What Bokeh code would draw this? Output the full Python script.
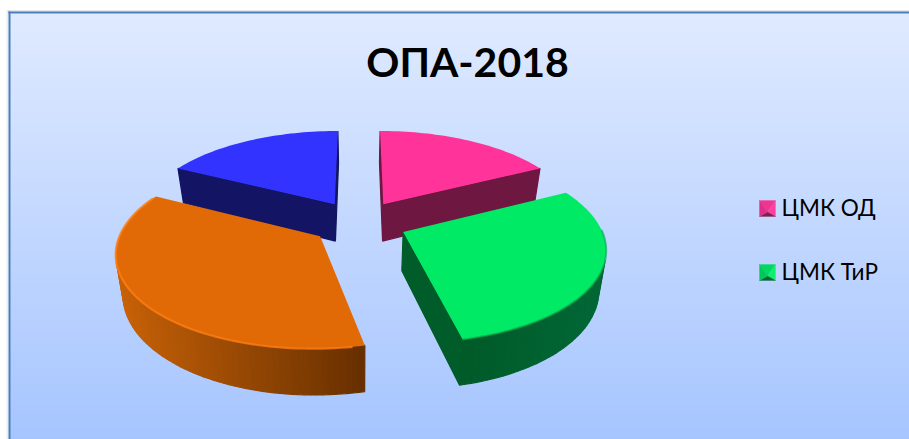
import math
from bokeh.plotting import figure
from bokeh.embed import file_html
from bokeh.resources import INLINE
from bokeh.core.properties import value

title = "ОПА-2018"
categories = ["ЦМК ОД", "ЦМК ТиР", "Кв. 3", "Кв. 4"]
shares = [17.5, 29.0, 36.0, 17.5]
legend_labels = ["ЦМК ОД", "ЦМК ТиР"]
top_colors = ["#ff3399", "#00ea66", "#e16a06", "#3333ff"]
cut_colors = ["#6e1740", "#005c28", "#8a4204", "#131464"]
wall_from = [(110, 23, 64), (0, 104, 54), (200, 98, 8), (19, 20, 100)]
wall_to = [(110, 23, 64), (0, 90, 40), (104, 48, 0), (19, 20, 100)]

W, H = 909, 439
p = figure(width=W, height=H, x_range=(0, W), y_range=(H, 0),
           toolbar_location=None, output_backend="svg", min_border=0,
           outline_line_color=None, background_fill_color="#ffffff",
           border_fill_color="#ffffff")
p.axis.visible = False
p.grid.visible = False

# background gradient, painted from the top down so that no seams show
top_rgb, bottom_rgb = (223, 234, 255), (166, 197, 255)
ys = list(range(13, H))
n = len(ys)
def mix(a, b, t):
    return "#%02x%02x%02x" % tuple(int(round(a[i] + (b[i] - a[i]) * t)) for i in range(3))
p.quad(left=[10] * n, right=[W] * n, top=ys, bottom=[H] * n,
       fill_color=[mix(top_rgb, bottom_rgb, i / n) for i in range(n)], line_color=None)

# chart frame and its faint shadow
p.quad(left=[6], right=[8], top=[10], bottom=[H], fill_color="#eceef1", line_color=None)
p.quad(left=[7], right=[W], top=[10], bottom=[11], fill_color="#c9cdd3", line_color=None)
p.quad(left=[8], right=[W], top=[11], bottom=[13], fill_color="#4a7ebb", line_color=None)
p.quad(left=[8], right=[10], top=[11], bottom=[H], fill_color="#4a7ebb", line_color=None)

# perspective pie
CX, CY, A, B, K, DEPTH, SHRINK, EXPLODE = 358.5, 222, 196, 90, 0.156, 38, 0.97, 0.245

def proj(X, Y, low=False):
    s = 1 / (1 - K * Y)
    x, y = A * X * s, B * Y * s
    if low:
        x *= SHRINK
        y += DEPTH * s
    return CX + x, CY + y

total = sum(shares)
slices = []
acc = 0.0
for i, v in enumerate(shares):
    a0, a1 = acc / total * 2 * math.pi, (acc + v) / total * 2 * math.pi
    acc += v
    mid = (a0 + a1) / 2
    ax, ay = EXPLODE * math.sin(mid), -EXPLODE * math.cos(mid)
    n_seg = max(8, int(math.degrees(a1 - a0) / 1.5))
    pts = [(ax + math.sin(a0 + (a1 - a0) * j / n_seg), ay - math.cos(a0 + (a1 - a0) * j / n_seg))
           for j in range(n_seg + 1)]
    slices.append(dict(i=i, a=(ax, ay), arc=pts))

for s in sorted(slices, key=lambda d: d["a"][1]):
    i, apex, arc = s["i"], s["a"], s["arc"]
    xs_w, ys_w, cols = [], [], []
    loop = [apex] + arc + [apex]
    xl, xr = min(proj(*c)[0] for c in arc), max(proj(*c)[0] for c in arc)
    for j in range(len(loop) - 1):
        p0, p1 = loop[j], loop[j + 1]
        q = [proj(*p0), proj(*p1), proj(*p1, True), proj(*p0, True)]
        area = sum(q[m][0] * q[(m + 1) % 4][1] - q[(m + 1) % 4][0] * q[m][1] for m in range(4))
        if area >= 0:
            continue
        xs_w.append([c[0] for c in q])
        ys_w.append([c[1] for c in q])
        if j == 0 or j == len(loop) - 2:
            cols.append(cut_colors[i])
        else:
            t = (q[0][0] - xl) / (xr - xl)
            if i == 1:
                t = 1 - t
            cols.append(mix(wall_from[i], wall_to[i], min(1, max(0, t))))
    if xs_w:
        p.patches(xs_w, ys_w, fill_color=cols, line_color=cols, line_width=1.2)
    top = [proj(*c) for c in loop[:-1]]
    p.patch([c[0] for c in top], [c[1] for c in top], fill_color=top_colors[i], line_color=None)
    if i == 2:
        rim = [proj(*c) for c in arc[2:-1]]
        p.line([c[0] for c in rim], [c[1] for c in rim], line_color="#ff7d12", line_width=2.2, line_alpha=0.8)
    if i == 1:
        rim = [proj(*c) for c in arc[len(arc) // 4:]]
        p.line([c[0] for c in rim], [c[1] for c in rim], line_color="#00a850", line_width=2, line_alpha=0.6)

p.text(x=[467], y=[61], text=[title], text_font=value("Lato"), text_font_style="bold",
       text_font_size="41px", text_align="center", text_baseline="middle", text_color="#000000")

# legend
SW_X, SW_S, LEG_Y, LEG_GAP = 759, 16, [200, 264], 6
shades = {0: ("#ff3f9f", "#e22d88", "#f0348f", "#7e1f4c"), 1: ("#0df06e", "#00c858", "#00d860", "#006a30")}
for k, lab in enumerate(legend_labels):
    x0, y0 = SW_X, LEG_Y[k]
    x1, y1 = x0 + SW_S, y0 + SW_S
    mx, my = x0 + SW_S / 2, y0 + SW_S * 0.72
    xs_t = [[x0, x1, mx], [x1, x1, mx], [x1, x0, mx], [x0, x0, mx]]
    ys_t = [[y0, y0, my], [y0, y1, my], [y1, y1, my], [y1, y0, my]]
    c = shades[k]
    order = [c[2], c[0], c[3], c[1]]
    p.patches(xs_t, ys_t, fill_color=order, line_color=order, line_width=0.3)
    p.text(x=[x1 + LEG_GAP], y=[y0 + SW_S / 2 - 1], text=[lab], text_font=value("Lato"), text_font_size="22.5px",
           text_align="left", text_baseline="middle", text_color="#000000")

html = file_html(p, INLINE)
open("out.html", "w").write(html)
